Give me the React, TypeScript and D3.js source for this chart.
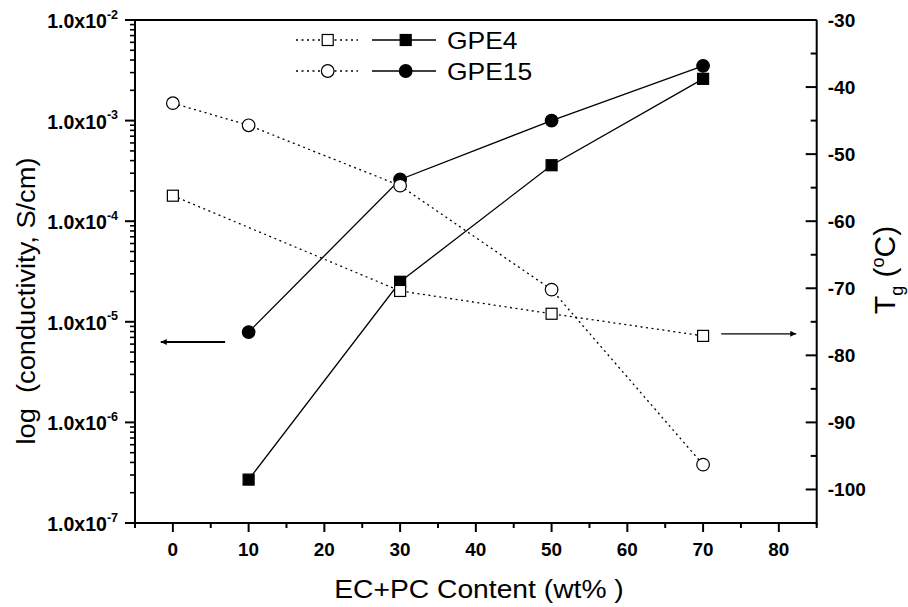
import React from 'react';
import * as d3 from 'd3';

// EC+PC content (wt%)
const condContent = [10, 30, 50, 70];
const gpe4Conductivity = [2.7e-7, 2.5e-5, 3.6e-4, 2.6e-3];
const gpe15Conductivity = [7.9e-6, 2.6e-4, 1.0e-3, 3.5e-3];

const gpe4TgContent = [0, 30, 50, 70];
const gpe4Tg = [-56.2, -70.4, -73.8, -77.1];
const gpe15TgContent = [0, 10, 30, 50, 70];
const gpe15Tg = [-42.4, -45.7, -54.7, -70.2, -96.3];

const xTicks = [0, 10, 20, 30, 40, 50, 60, 70, 80];
const condTicks = [-2, -3, -4, -5, -6, -7];
const tgTicks = [-30, -40, -50, -60, -70, -80, -90, -100];

const margin = { top: 20, left: 135, right: 91.3, bottom: 84 };
const W = 908;
const H = 607;
const width = W - margin.left - margin.right;
const height = H - margin.top - margin.bottom;

const x = d3.scaleLinear().domain([-5, 85]).range([0, width]);
const yCond = d3.scaleLog().domain([1e-7, 1e-2]).range([height, 0]);
const yTg = d3.scaleLinear().domain([-105, -30]).range([height, 0]);

const dotted = '2,3.5';
const lw = 1.3;
const font = 'Liberation Sans, Arial, Helvetica, sans-serif';

const Square = ({ cx, cy, filled }: { cx: number; cy: number; filled: boolean }) => (
  <rect x={cx - 5.5} y={cy - 5.5} width={11} height={11}
    fill={filled ? '#000' : '#fff'} stroke="#000" strokeWidth={1.2} />
);
const Circle = ({ cx, cy, filled }: { cx: number; cy: number; filled: boolean }) => (
  <circle cx={cx} cy={cy} r={6.3} fill={filled ? '#000' : '#fff'} stroke="#000" strokeWidth={1.2} />
);

// text stretched horizontally, the original's lettering is wider than Arial
const SText = ({ x, y, sx = 1, rot = 0, children, ...rest }: any) => (
  <text transform={`translate(${x},${y}) rotate(${rot}) scale(${sx},1)`} {...rest}>{children}</text>
);

export default function App() {
  const lineCond = d3.line<[number, number]>().x(d => x(d[0])).y(d => yCond(d[1]));
  const lineTg = d3.line<[number, number]>().x(d => x(d[0])).y(d => yTg(d[1]));

  const g4c = condContent.map((c, i) => [c, gpe4Conductivity[i]] as [number, number]);
  const g15c = condContent.map((c, i) => [c, gpe15Conductivity[i]] as [number, number]);
  const g4t = gpe4TgContent.map((c, i) => [c, gpe4Tg[i]] as [number, number]);
  const g15t = gpe15TgContent.map((c, i) => [c, gpe15Tg[i]] as [number, number]);

  // minor ticks for log axis (2..9 in each decade)
  const condMinor: number[] = [];
  for (let e = -7; e < -2; e++) {
    for (let m = 2; m <= 9; m++) condMinor.push(m * Math.pow(10, e));
  }
  const xMinor = d3.range(-5, 86, 10);
  const tgMinor = d3.range(-105, -29, 10);

  return (
    <svg width={W} height={H} style={{ position: 'absolute', left: 0, top: 0 }} fontFamily={font}>
      <defs>
        <marker id="arrow" viewBox="0 0 10 10" refX="10" refY="5" markerWidth="8" markerHeight="6"
          orient="auto-start-reverse" markerUnits="userSpaceOnUse">
          <path d="M0,0 L10,5 L0,10 Z" fill="#000" />
        </marker>
      </defs>
      <g transform={`translate(${margin.left},${margin.top})`}>
        {/* frame */}
        <line x1={-2} x2={width} y1={height} y2={height} stroke="#000" strokeWidth={2} />
        <line x1={0} x2={0} y1={0} y2={height} stroke="#000" strokeWidth={2} />
        <line x1={width} x2={width} y1={0} y2={height + 2} stroke="#000" strokeWidth={2} />
        <line x1={0} x2={width} y1={0} y2={0} stroke="#000" strokeWidth={2} />

        {/* bottom axis */}
        {xTicks.map(t => (
          <g key={t}>
            <line x1={x(t)} x2={x(t)} y1={height} y2={height + 9} stroke="#000" strokeWidth={2} />
            <SText x={x(t)} y={height + 33} sx={1.08} textAnchor="middle" fontSize={17.5} fontWeight="bold">{t}</SText>
          </g>
        ))}
        {xMinor.map(t => (
          <line key={t} x1={x(t)} x2={x(t)} y1={height} y2={height + 5} stroke="#000" strokeWidth={2} />
        ))}

        {/* left log axis */}
        {condTicks.map(e => (
          <g key={e} transform={`translate(0,${yCond(Math.pow(10, e))})`}>
            <line x1={-10} x2={0} stroke="#000" strokeWidth={2} />
            <text x={-17} y={8} textAnchor="end" fontSize={19.5} fontWeight="bold">
              1.0x10<tspan dy={-9.5} fontSize={12.5}>{e}</tspan>
            </text>
          </g>
        ))}
        {condMinor.map((v, i) => (
          <line key={i} x1={-5} x2={0} y1={yCond(v)} y2={yCond(v)} stroke="#000" strokeWidth={1.6} />
        ))}

        {/* right Tg axis */}
        {tgTicks.map(t => (
          <g key={t} transform={`translate(${width},${yTg(t)})`}>
            <line x1={-11} x2={0} stroke="#000" strokeWidth={2} />
            <SText x={11} y={6.5} sx={1.06} fontSize={18} fontWeight="bold">{t}</SText>
          </g>
        ))}
        {tgMinor.map(t => (
          <line key={t} x1={width - 6} x2={width} y1={yTg(t)} y2={yTg(t)} stroke="#000" strokeWidth={2} />
        ))}

        {/* series lines */}
        <path d={lineCond(g4c) ?? ''} fill="none" stroke="#000" strokeWidth={lw} />
        <path d={lineCond(g15c) ?? ''} fill="none" stroke="#000" strokeWidth={lw} />
        <path d={lineTg(g4t) ?? ''} fill="none" stroke="#000" strokeWidth={lw} strokeDasharray={dotted} />
        <path d={lineTg(g15t) ?? ''} fill="none" stroke="#000" strokeWidth={lw} strokeDasharray={dotted} />

        {/* markers */}
        {g4c.map((d, i) => <Square key={'a' + i} cx={x(d[0])} cy={yCond(d[1])} filled />)}
        {g15c.map((d, i) => <Circle key={'b' + i} cx={x(d[0])} cy={yCond(d[1])} filled />)}
        {g15t.map((d, i) => <Circle key={'c' + i} cx={x(d[0])} cy={yTg(d[1])} filled={false} />)}
        {g4t.map((d, i) => <Square key={'d' + i} cx={x(d[0])} cy={yTg(d[1])} filled={false} />)}

        {/* arrows pointing to the axis each series belongs to */}
        <line x1={x(6.9)} x2={x(-1.6)} y1={yCond(6.3e-6)} y2={yCond(6.3e-6)} stroke="#000"
          strokeWidth={2} markerEnd="url(#arrow)" />
        <line x1={x(72.4)} x2={x(82.3)} y1={yTg(-76.8)} y2={yTg(-76.8)} stroke="#000"
          strokeWidth={1.3} markerEnd="url(#arrow)" />
      </g>

      {/* legend */}
      {[{ label: 'GPE4', shape: 'sq', y: 40 }, { label: 'GPE15', shape: 'ci', y: 71 }].map(l => (
        <g key={l.label}>
          <line x1={296} x2={358} y1={l.y} y2={l.y} stroke="#000" strokeWidth={lw} strokeDasharray={dotted} />
          <line x1={372} x2={436} y1={l.y} y2={l.y} stroke="#000" strokeWidth={lw} />
          {l.shape === 'sq' ? (
            <>
              <Square cx={327.7} cy={l.y} filled={false} />
              <Square cx={405.7} cy={l.y} filled />
            </>
          ) : (
            <>
              <Circle cx={327.7} cy={l.y} filled={false} />
              <Circle cx={405.7} cy={l.y} filled />
            </>
          )}
          <SText x={447} y={l.y + 8.5} sx={1.15} fontSize={23}>{l.label}</SText>
        </g>
      ))}

      {/* axis titles */}
      <SText x={479} y={598} sx={1.13} textAnchor="middle" fontSize={25}>
        EC+PC Content (wt% )
      </SText>
      <SText x={35} y={301} rot={-90} sx={1.09} textAnchor="middle" fontSize={25} xmlSpace="preserve">
        log  (conductivity, S/cm)
      </SText>
      <text transform="translate(895,270) rotate(-90)" textAnchor="middle" fontSize={30}>
        T<tspan dy={8} fontSize={18}>g</tspan>
        <tspan dy={-8}> (</tspan>
        <tspan dy={-11} fontSize={18}>o</tspan>
        <tspan dy={11}>C)</tspan>
      </text>
    </svg>
  );
}
